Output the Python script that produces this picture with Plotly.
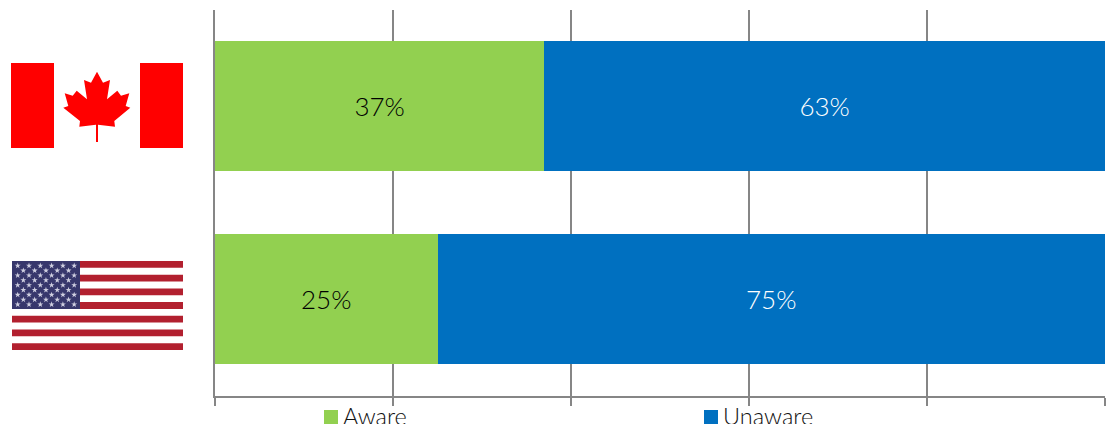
import plotly.graph_objects as go

W, H = 1107, 424  # the page clips the lower edge of the legend text

countries = ["Canada", "United States"]
aware = [37, 25]
unaware = [63, 75]
series_names = ["Aware", "Unaware"]
x_ticks = [0, 20, 40, 60, 80, 100]

GREEN = "#92D050"
BLUE = "#0070C0"
GRID = "#868686"
FONT = "Lato, 'Open Sans', sans-serif"
FLAG_RED = "#FF0000"
US_RED = "#B2202F"
US_NAVY = "#37376C"

# Maple leaf outline as offsets from the flag's centre line, in px
LEAF = [(0, 71.7), (-6, 82.7), (-13, 80), (-10, 99.3), (-20.3, 90.7), (-24.3, 95.7),
        (-32.3, 93.3), (-28.7, 106), (-33.7, 107.7), (-17, 121), (-17.7, 126.7),
        (-1, 124.7), (-1, 142), (1, 142), (1, 124.7), (18, 126.7), (17.3, 121),
        (33.3, 107.7), (28.7, 106), (32.3, 93.3), (24, 95.7), (20.3, 90.7),
        (10, 99.3), (13, 80), (6, 82.7)]


def px_rect(x0, y0, x1, y1, color):
    return dict(type="rect", xref="x2", yref="y2", x0=x0, y0=y0, x1=x1, y1=y1,
                fillcolor=color, line_width=0, layer="below")


fig = go.Figure()

fig.add_bar(name=series_names[0], y=countries, x=aware, orientation="h",
            marker_color=GREEN, marker_line_width=0,
            text=[f"{v}%" for v in aware], textposition="inside",
            insidetextanchor="middle", textangle=0,
            textfont=dict(color="#000000", size=26, family=FONT, weight=300),
            hoverinfo="skip")
fig.add_bar(name=series_names[1], y=countries, x=unaware, orientation="h",
            marker_color=BLUE, marker_line_width=0,
            text=[f"{v}%" for v in unaware], textposition="inside",
            insidetextanchor="middle", textangle=0,
            textfont=dict(color="#FFFFFF", size=26, family=FONT, weight=300),
            hoverinfo="skip")

# Flags live on a pixel-scaled subplot spanning the whole figure
shapes = [
    px_rect(11, 63, 54, 148, FLAG_RED),
    px_rect(140, 63, 183, 148, FLAG_RED),
]
leaf_path = "M" + " L".join(f"{97 + dx},{y}" for dx, y in LEAF) + " Z"
shapes.append(dict(type="path", xref="x2", yref="y2", path=leaf_path,
                   fillcolor=FLAG_RED, line_width=0, layer="below"))

flag_x0, flag_x1, flag_y0, flag_y1 = 12, 183, 261, 350
stripe = (flag_y1 - flag_y0) / 13
for i in range(0, 13, 2):
    shapes.append(px_rect(flag_x0, flag_y0 + i * stripe, flag_x1,
                          flag_y0 + (i + 1) * stripe, US_RED))
canton_x1, canton_y1 = 80, flag_y0 + 7 * stripe
shapes.append(px_rect(flag_x0, flag_y0, canton_x1, canton_y1, US_NAVY))

star_x, star_y = [], []
for row in range(9):
    columns = 6 if row % 2 == 0 else 5
    for col in range(columns):
        offset = 0 if row % 2 == 0 else 0.5
        star_x.append(flag_x0 + 5.7 + (col + offset) * 11.3)
        star_y.append(flag_y0 + 4.7 + row * 4.85)

fig.add_scatter(x=star_x, y=star_y, xaxis="x2", yaxis="y2", mode="markers",
                marker=dict(symbol="star", size=4.5, color="#CFCFE0", line_width=0),
                showlegend=False, hoverinfo="skip")

# Legend: a colour swatch and a label per series
annotations = []
for name, color, swatch_x in zip(series_names, [GREEN, BLUE], [324, 704]):
    shapes.append(px_rect(swatch_x, 410, swatch_x + 14, 424, color))
    annotations.append(dict(text=name, xref="x2", yref="y2", x=swatch_x + 17, y=416,
                            xanchor="left", yanchor="middle", showarrow=False,
                            font=dict(size=23.5, color="#111111", family=FONT, weight=300)))

fig.update_layout(
    width=W, height=H, autosize=False,
    margin=dict(l=0, r=0, t=0, b=0, autoexpand=False),
    paper_bgcolor="#FFFFFF", plot_bgcolor="rgba(0,0,0,0)",
    barmode="stack", bargap=0.327,
    font=dict(family=FONT),
    shapes=shapes,
    annotations=annotations,
    showlegend=False,
    xaxis=dict(domain=[215 / W, 1105 / W], range=[0, 100], tickvals=x_ticks,
               showticklabels=False, ticks="outside", ticklen=8, tickwidth=2,
               tickcolor=GRID, showgrid=True, gridcolor=GRID, gridwidth=2,
               showline=True, linecolor=GRID, linewidth=2, zeroline=False),
    yaxis=dict(domain=[(H - 395.5) / H, (H - 9.5) / H], autorange="reversed",
               showticklabels=False, ticks="", showline=True, linecolor=GRID,
               linewidth=2, showgrid=False, zeroline=False),
    xaxis2=dict(domain=[0, 1], range=[0, W], visible=False, fixedrange=True,
                anchor="y2"),
    yaxis2=dict(domain=[0, 1], range=[H, 0], visible=False, fixedrange=True,
                anchor="x2"),
)

fig.write_html("out.html")
